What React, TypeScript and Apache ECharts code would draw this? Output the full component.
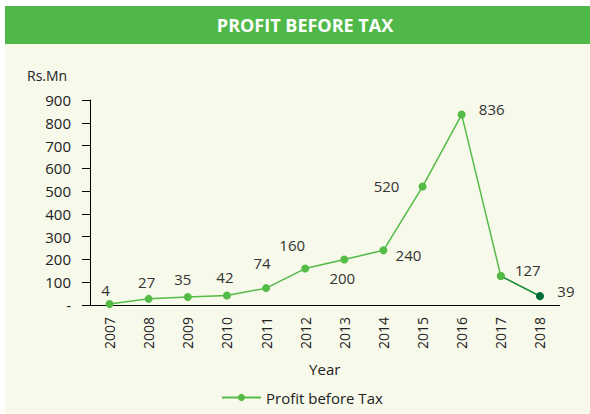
import React, { useEffect, useRef } from "react";
import * as echarts from "echarts";

const years = ["2007", "2008", "2009", "2010", "2011", "2012", "2013", "2014", "2015", "2016", "2017", "2018"];
const profit = [4, 27, 35, 42, 74, 160, 200, 240, 520, 836, 127, 39];
const labelOffsets: [number, number][] = [
  [-4, -14], [-2, -17], [-5, -18], [-2, -18], [-4, -25], [-13, -24],
  [-2, 19], [25, 5], [-36, -1], [30, -6], [27, -6], [26, -5],
];
const yTicks = [0, 100, 200, 300, 400, 500, 600, 700, 800, 900];

const GREEN = "#55bb47";
const DARK_LINE = "#1b8a46";
const DARK_POINT = "#006b3a";
const FONT = "'Open Sans', sans-serif";

export default function App() {
  const ref = useRef<HTMLDivElement>(null);
  useEffect(() => {
    document.body.style.margin = "0";
    const chart = echarts.init(ref.current!, null, { renderer: "svg" });
    const lastStart = profit.length - 2;
    chart.setOption({
      animation: false,
      backgroundColor: "#ffffff",
      textStyle: { fontFamily: FONT },
      graphic: [
        { type: "rect", z: -10, shape: { x: 5, y: 44, width: 585, height: 370 }, style: { fill: "#f7f9ea" } },
        { type: "rect", z: -10, shape: { x: 5, y: 6, width: 585, height: 38 }, style: { fill: "#50b848" } },
        {
          type: "text", x: 305, y: 25,
          style: { text: "PROFIT BEFORE TAX", fill: "#ffffff", font: `bold 18px ${FONT}`, align: "center", verticalAlign: "middle" },
        },
        {
          type: "text", x: 27, y: 75,
          style: { text: "Rs.Mn", fill: "#222", font: `14px ${FONT}`, align: "left", verticalAlign: "middle" },
        },
      ],
      grid: { left: 90, right: 30.5, top: 100, bottom: 109, containLabel: false },
      legend: {
        data: ["Profit before Tax"],
        left: 216, top: 385, itemWidth: 39, itemHeight: 9, itemGap: 13,
        textStyle: { fontSize: 15, color: "#222", fontFamily: FONT },
      },
      xAxis: {
        type: "category",
        data: years,
        boundaryGap: true,
        axisLine: { lineStyle: { color: "#000", width: 1 } },
        axisTick: { length: 5, lineStyle: { color: "#000" } },
        axisLabel: { rotate: 90, margin: 12, fontSize: 14, color: "#222", fontFamily: FONT },
        name: "Year",
        nameLocation: "middle",
        nameGap: 56,
        nameTextStyle: { fontSize: 15, color: "#222", fontFamily: FONT },
      },
      yAxis: {
        type: "value",
        min: yTicks[0],
        max: yTicks[yTicks.length - 1],
        interval: 100,
        axisLine: { show: true, lineStyle: { color: "#000", width: 1 } },
        axisTick: { show: true, length: 8, lineStyle: { color: "#000" } },
        splitLine: { show: false },
        axisLabel: {
          margin: 19, fontSize: 15, color: "#222", fontFamily: FONT,
          formatter: (v: number) => (v === 0 ? "-" : String(v)),
        },
      },
      series: [
        {
          name: "Profit before Tax",
          type: "line",
          symbol: "circle",
          symbolSize: 8,
          color: GREEN,
          lineStyle: { color: GREEN, width: 1.5 },
          itemStyle: { color: GREEN },
          data: profit.map((v, i) => ({
            value: v,
            label: {
              show: true,
              position: "inside",
              offset: labelOffsets[i],
              color: "#333",
              fontSize: 15,
              fontFamily: FONT,
              textBorderWidth: 0,
            },
          })),
          z: 2,
        },
        {
          name: "dark",
          type: "line",
          symbol: "circle",
          symbolSize: 8,
          lineStyle: { color: DARK_LINE, width: 1.5 },
          data: profit.map((v, i) =>
            i >= lastStart
              ? { value: v, itemStyle: { color: i === profit.length - 1 ? DARK_POINT : GREEN } }
              : null
          ),
          label: { show: false },
          z: 3,
        },
      ],
    });
    return () => chart.dispose();
  }, []);
  return <div ref={ref} style={{ width: 590, height: 414 }} />;
}
